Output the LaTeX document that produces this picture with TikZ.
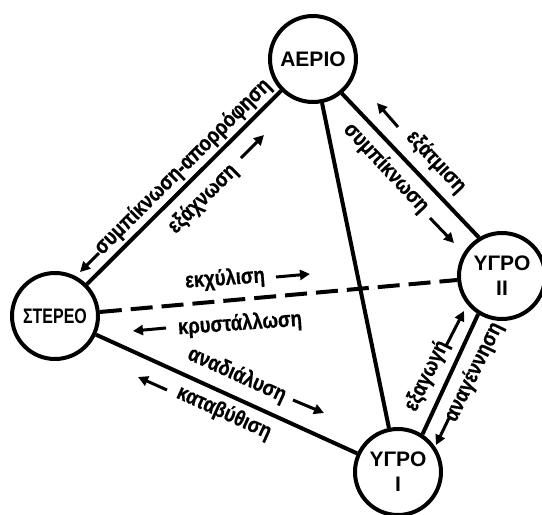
\documentclass[tikz,border=0pt]{standalone}
\usepackage{fontspec}
\setmainfont{Liberation Sans}
\newfontfamily\narrowfont[FakeStretch=0.76]{Liberation Sans}
\newfontfamily\lblfont[FakeStretch=0.84, BoldFeatures={FakeBold=0.6}]{Liberation Sans}
\usetikzlibrary{arrows.meta}
\begin{document}
\begin{tikzpicture}[x=1pt,y=-1pt,
  state/.style={circle, draw, line width=4pt, minimum size=86pt, inner sep=0pt,
    font=\fontsize{21}{25}\selectfont\bfseries, align=center},
  link/.style={line width=4pt},
  dlink/.style={line width=4pt, dash pattern=on 22pt off 9pt},
  lbl/.style={font=\lblfont\fontsize{22}{25}\selectfont\bfseries, inner sep=0pt},
  arr/.style={line width=3pt, -{Triangle[length=10pt,width=10pt]}}]
\fill[white] (0,0) rectangle (542,515);
\useasboundingbox (0,0) rectangle (542,515);

% states
\node[state] (aerio)  at (313,59)  {ΑΕΡΙΟ};
\node[state] (stereo) at (55,316)  {\narrowfont ΣΤΕΡΕΟ};
\node[state] (ygro2)  at (502,276) {ΥΓΡΟ\\II};
\node[state] (ygro1)  at (398,472) {ΥΓΡΟ\\I};

% connectors
\draw[link]  (stereo) -- (aerio);
\draw[link]  (aerio.-50) -- (ygro2.121);
\draw[link]  (aerio) -- (ygro1);
\draw[dlink] (stereo) -- (ygro2);
\draw[link]  (stereo) -- (ygro1);
\draw[link]  (ygro1.57) -- (ygro2.238);

% labels
\node[lbl, rotate=44.8] (l1)  at (183,167) {συμπίκνωση-απορρόφηση};
\node[lbl, rotate=44.8] (l2)  at (203,199) {εξάχνωση};
\node[lbl, rotate=-47]  (l3)  at (436,162) {εξάτμιση};
\node[lbl, rotate=-47]  (l4)  at (386,168) {συμπίκνωση};
\node[lbl, rotate=4]    (l5)  at (225,279) {εκχύλιση};
\node[lbl, rotate=4]    (l6)  at (240,324) {κρυστάλλωση};
\node[lbl, rotate=-24.4] (l7) at (237,375) {αναδιάλυση};
\node[lbl, rotate=-24.4] (l8) at (224,413) {καταβύθιση};
\node[lbl, rotate=64]   (l9)  at (427,376) {εξαγωγή};
\node[lbl, rotate=64]   (l10) at (474,372) {αναγέννηση};

% direction arrows
\coordinate (a1s) at (99,253);   \coordinate (a1e) at (80,272);
\coordinate (a2s) at (241,158);  \coordinate (a2e) at (264,135);
\coordinate (a3s) at (398,127);  \coordinate (a3e) at (377,103);
\coordinate (a4s) at (430,218);  \coordinate (a4e) at (454,243);
\coordinate (a5s) at (276,277);  \coordinate (a5e) at (310,274);
\coordinate (a6s) at (166,328);  \coordinate (a6e) at (133,331);
\coordinate (a7s) at (293,400);  \coordinate (a7e) at (324,413);
\coordinate (a8s) at (167,390);  \coordinate (a8e) at (138,377);
\coordinate (a9s) at (446,346);  \coordinate (a9e) at (464,311);
\coordinate (a10s) at (449,418); \coordinate (a10e) at (436,445);
\foreach \i in {1,...,10} { \draw[arr] (a\i s) -- (a\i e); }
\end{tikzpicture}
\end{document}
